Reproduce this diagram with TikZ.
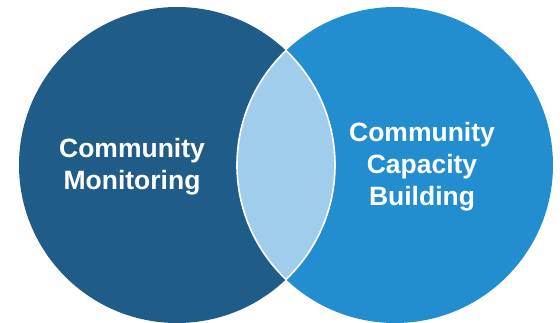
\documentclass[tikz,border=0pt]{standalone}
\usepackage{fontspec}
\setmainfont{Liberation Sans}
\usepackage{tikz}
\definecolor{monblue}{RGB}{31,92,135}
\definecolor{capblue}{RGB}{34,142,208}
\definecolor{lensblue}{RGB}{161,205,236}
\tikzset{ring/.style={circle, inner sep=0pt, minimum size=316pt}, ringlabel/.style={text=white, align=center, font=\bfseries\fontsize{26.5}{32}\selectfont}}

\begin{document}
\begin{tikzpicture}[x=1pt, y=-1pt]
      \def\rad{158}
      \useasboundingbox (0,0) rectangle (560,322);
      \clip (0,0) rectangle (560,322);
      \node [ring, fill=monblue] (mon) at (177,165) {};
      \node [ring, fill=capblue] (cap) at (395,165) {};
      \begin{scope}
        \clip (mon.center) circle (\rad);
        \fill [lensblue] (cap.center) circle (\rad);
        \draw [white, line width=1.6pt] (cap.center) circle (\rad);
      \end{scope}
      \begin{scope}
        \clip (cap.center) circle (\rad);
        \draw [white, line width=1.6pt] (mon.center) circle (\rad);
      \end{scope}
      \node [ringlabel] (monlabel) at (132,167) {Community\\Monitoring};
      \node [ringlabel] (caplabel) at (422,167) {Community\\Capacity\\Building};
    \end{tikzpicture}
\end{document}
